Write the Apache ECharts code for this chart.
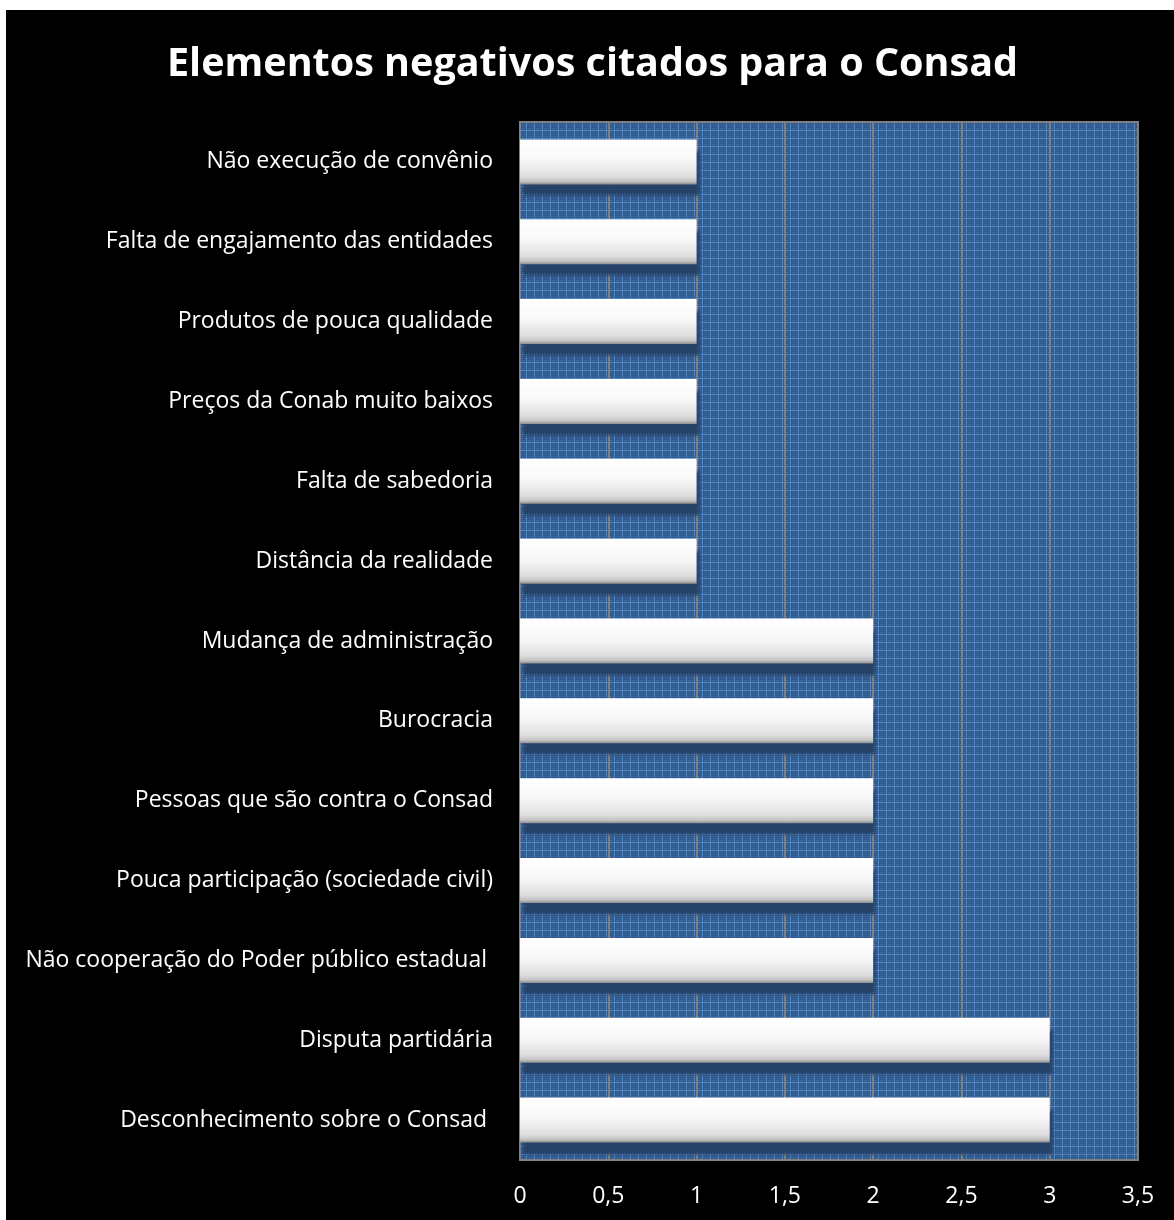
<!DOCTYPE html>
<html>
<head>
<meta charset="utf-8">
<script src="https://cdn.jsdelivr.net/npm/echarts@6/dist/echarts.min.js"></script>
<style>
  html, body { margin: 0; padding: 0; background: #ffffff; }
  #chart { position: absolute; left: 6px; top: 10px; width: 1168px; height: 1210px; background: #000000; }
</style>
</head>
<body>
<div id="chart"></div>
<script>
// Categories listed top to bottom
const categories = [
  'Não execução de convênio',
  'Falta de engajamento das entidades',
  'Produtos de pouca qualidade',
  'Preços da Conab muito baixos',
  'Falta de sabedoria',
  'Distância da realidade',
  'Mudança de administração',
  'Burocracia',
  'Pessoas que são contra o Consad',
  'Pouca participação (sociedade civil)',
  'Não cooperação do Poder público estadual ',
  'Disputa partidária',
  'Desconhecimento sobre o Consad '
];
const counts = [1, 1, 1, 1, 1, 1, 2, 2, 2, 2, 2, 3, 3];
const titleText = 'Elementos negativos citados para o Consad';

// Fine blue woven texture for the plot background
function makePattern() {
  const c = document.createElement('canvas');
  c.width = 8; c.height = 8;
  const g = c.getContext('2d');
  g.fillStyle = '#30578a';
  g.fillRect(0, 0, 8, 8);
  g.fillStyle = '#5089c8';
  g.fillRect(0, 0, 8, 1);
  g.fillRect(0, 0, 1, 8);
  g.fillStyle = '#4272ab';
  for (let y = 2; y < 8; y += 2) {
    for (let x = 2 + (y % 4 === 0 ? 1 : 0); x < 8; x += 2) {
      g.fillRect(x, y, 1, 1);
    }
  }
  return c;
}

const chart = echarts.init(document.getElementById('chart'), null, { renderer: 'canvas' });
chart.setOption({
  backgroundColor: '#000000',
  animation: false,
  title: {
    text: titleText,
    left: 156,
    top: 30,
    textStyle: {
      color: '#ffffff',
      fontFamily: 'Open Sans',
      fontWeight: 'bold',
      fontSize: 39.5
    }
  },
  grid: {
    left: 514,
    right: 36,
    top: 112,
    bottom: 60,
    show: true,
    backgroundColor: { image: makePattern(), repeat: 'repeat' },
    borderColor: '#808080',
    borderWidth: 2
  },
  xAxis: {
    type: 'value',
    min: 0,
    max: 3.5,
    interval: 0.5,
    axisLine: { show: false },
    axisTick: { show: false },
    splitLine: { show: true, lineStyle: { color: '#808080', width: 2 } },
    axisLabel: {
      color: '#ffffff',
      fontFamily: 'Open Sans',
      fontSize: 23,
      margin: 25,
      formatter: v => String(v).replace('.', ',')
    }
  },
  yAxis: {
    type: 'category',
    data: categories,
    inverse: true,
    axisLine: { show: false },
    axisTick: { show: false },
    axisLabel: {
      color: '#ffffff',
      fontFamily: 'Open Sans',
      fontSize: 23,
      margin: 27
    }
  },
  series: [{
    type: 'bar',
    data: counts,
    barWidth: 45,
    itemStyle: {
      color: {
        type: 'linear', x: 0, y: 0, x2: 0, y2: 1,
        colorStops: [
          { offset: 0, color: '#ffffff' },
          { offset: 0.45, color: '#f8f8f8' },
          { offset: 0.82, color: '#dedede' },
          { offset: 0.93, color: '#c4c4c4' },
          { offset: 1, color: '#8e8e8e' }
        ]
      },
      borderWidth: 0,
      shadowColor: 'rgba(36, 64, 102, 0.95)',
      shadowOffsetX: 3,
      shadowOffsetY: 12,
      shadowBlur: 3
    }
  }]
});
</script>
</body>
</html>
